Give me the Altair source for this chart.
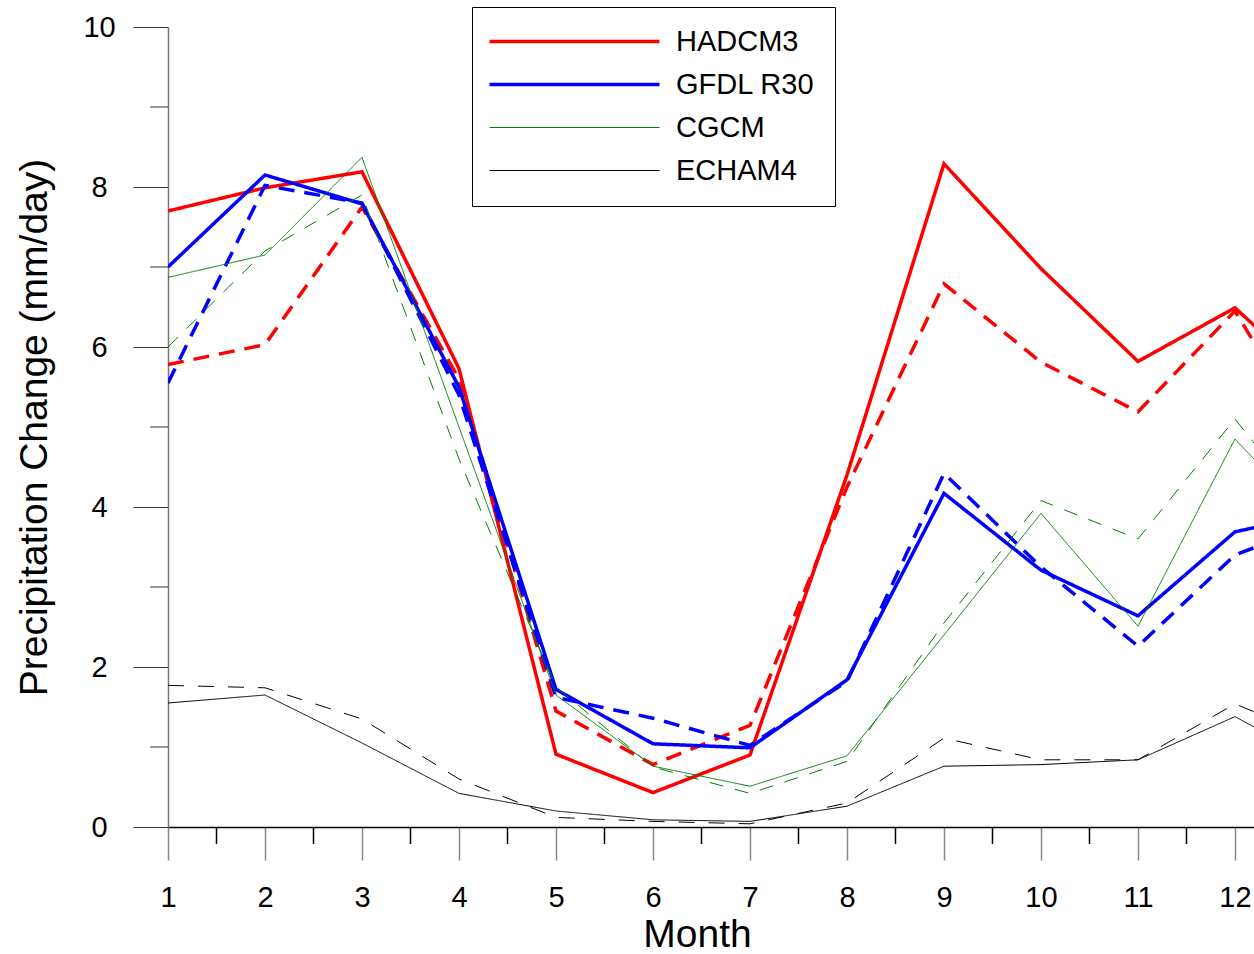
import altair as alt
import pandas as pd

months = list(range(1, 14))  # month 13 = continuation beyond December (clipped)

models = ["HADCM3", "GFDL R30", "CGCM", "ECHAM4"]
colors = ["#ff0000", "#0000ff", "#008000", "#000000"]
widths = [3.5, 3.5, 1.0, 1.0]

hadcm3_solid = [7.70, 7.99, 8.19, 5.73, 0.91, 0.43, 0.90, 4.40, 8.29, 6.98, 5.82, 6.49, 5.37]
hadcm3_dash = [5.78, 6.03, 7.75, 5.60, 1.45, 0.78, 1.27, 4.25, 6.79, 5.81, 5.19, 6.45, 4.45]
gfdl_solid = [7.00, 8.15, 7.79, 5.50, 1.72, 1.04, 0.99, 1.84, 4.17, 3.21, 2.64, 3.69, 3.95]
gfdl_dash = [5.55, 8.02, 7.80, 5.40, 1.62, 1.36, 1.02, 1.82, 4.42, 3.25, 2.26, 3.40, 3.86]
cgcm_solid = [6.87, 7.15, 8.37, 5.00, 1.65, 0.76, 0.51, 0.89, 2.40, 3.92, 2.51, 4.85, 3.57]
cgcm_dash = [6.00, 7.20, 7.90, 4.60, 1.75, 0.75, 0.42, 0.82, 2.55, 4.08, 3.60, 5.10, 3.57]
echam_solid = [1.55, 1.65, 1.05, 0.42, 0.20, 0.09, 0.07, 0.26, 0.76, 0.78, 0.84, 1.38, 0.72]
echam_dash = [1.77, 1.74, 1.35, 0.60, 0.12, 0.07, 0.04, 0.30, 1.11, 0.84, 0.84, 1.54, 1.03]

x_ticks = list(range(1, 13))
x_minor = [m + 0.5 for m in range(1, 12)]
y_ticks = [0, 2, 4, 6, 8, 10]
y_minor = [1, 3, 5, 7, 9]

series = [
    ("HADCM3", "solid", hadcm3_solid),
    ("HADCM3", "dash", hadcm3_dash),
    ("GFDL R30", "solid", gfdl_solid),
    ("GFDL R30", "dash", gfdl_dash),
    ("CGCM", "solid", cgcm_solid),
    ("CGCM", "dash", cgcm_dash),
    ("ECHAM4", "solid", echam_solid),
    ("ECHAM4", "dash", echam_dash),
]
rows = []
for model, style, vals in series:
    for m, v in zip(months, vals):
        rows.append({"month": m, "value": v, "model": model, "series": model + "|" + style})
df = pd.DataFrame(rows)

series_keys = [s[0] + "|" + s[1] for s in series]
dash_range = [[1, 0], [16, 10], [1, 0], [16, 10], [1, 0], [14, 12], [1, 0], [16, 14]]

FONT = "Liberation Sans"
xscale = alt.Scale(domain=[1, 12.196], nice=False, zero=False)
yscale = alt.Scale(domain=[0, 10], nice=False)

xaxis = alt.Axis(values=x_ticks, title="Month", titleFontSize=39, titleFont=FONT,
                 titleFontWeight="normal", titleColor="black",
                 titleX=529, titleY=119, titleBaseline="alphabetic",
                 titleAlign="center",
                 labelFontSize=29, labelFont=FONT, labelColor="black", labelPadding=23,
                 labelFlush=False, labelOverlap=False,
                 tickSize=33, tickColor="#888888", tickWidth=1.5,
                 domainColor="black", domainWidth=1.5, grid=False)
yaxis = alt.Axis(values=y_ticks, title="Precipitation Change (mm/day)", titleFontSize=39,
                 titleFont=FONT, titleFontWeight="normal", titleColor="black",
                 titleX=-134, titleY=400, titleAngle=-90, titleBaseline="middle",
                 titleAlign="center",
                 labelFontSize=29, labelFont=FONT, labelColor="black",
                 labelAlign="center", labelBaseline="middle", labelPadding=34,
                 labelFlush=False, labelOverlap=False,
                 tickSize=35, tickColor="#333333", tickWidth=1,
                 domainColor="#777777", domainWidth=1.5, grid=False)

legend = alt.Legend(orient="none", legendX=304, legendY=-20, title=None,
                    strokeColor="black", fillColor="white", padding=20,
                    rowPadding=13, symbolType="M-1.7,0H15.3", symbolSize=400,
                    labelFontSize=29, labelFont=FONT, labelColor="black",
                    labelOffset=155)

lines = alt.Chart(df).mark_line(clip=True).encode(
    x=alt.X("month:Q", scale=xscale, axis=xaxis),
    y=alt.Y("value:Q", scale=yscale, axis=yaxis),
    color=alt.Color("model:N", sort=models, scale=alt.Scale(domain=models, range=colors),
                    legend=legend),
    strokeWidth=alt.StrokeWidth("model:N", sort=models,
                                scale=alt.Scale(type="ordinal", domain=models, range=widths),
                                legend=legend),
    strokeDash=alt.StrokeDash("series:N", scale=alt.Scale(domain=series_keys, range=dash_range),
                              legend=None),
    detail="series:N",
)

xminor_df = pd.DataFrame({"month": x_minor})
xminor = alt.Chart(xminor_df).mark_rule(color="black", strokeWidth=1.5).encode(
    x=alt.X("month:Q", scale=xscale, axis=xaxis),
    y=alt.value(800), y2=alt.value(817),
)
yminor_df = pd.DataFrame({"value": y_minor})
yminor = alt.Chart(yminor_df).mark_rule(color="#333333", strokeWidth=1).encode(
    y=alt.Y("value:Q", scale=yscale, axis=yaxis),
    x=alt.value(-18), x2=alt.value(0),
)

chart = alt.layer(lines, xminor, yminor).properties(
    width=1086, height=800,
    autosize=alt.AutoSizeParams(type="none"),
    padding={"left": 168, "top": 27, "right": 0, "bottom": 127},
    background="white",
).configure_view(stroke=None)

chart.save("out.html", embed_options={"renderer": "svg", "actions": False})
